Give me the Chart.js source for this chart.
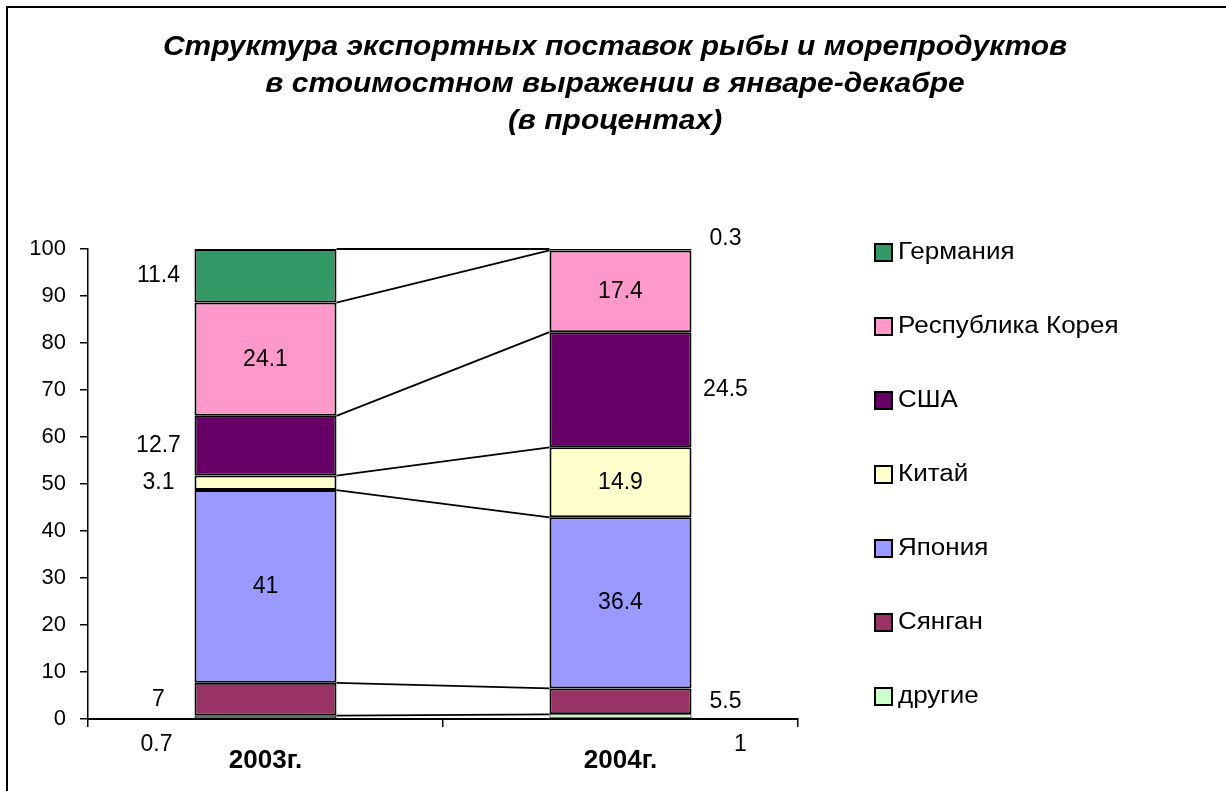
<!DOCTYPE html>
<html lang="ru">
<head>
    <meta charset="UTF-8">
    <title>Структура экспортных поставок рыбы и морепродуктов</title>
    <script src="https://cdn.jsdelivr.net/npm/chart.js"></script>
    <style>
        html, body { margin: 0; padding: 0; background: #fff; overflow: hidden; }
        .frame {
            position: absolute; left: 6px; top: 6px;
            width: 1400px; height: 1000px;
            border-left: 2px solid #000; border-top: 2px solid #000;
        }
        .wrap { position: absolute; left: 0; top: 0; width: 1226px; height: 791px; }
    </style>
</head>
<body>
    <div class="frame"></div>
    <div class="wrap"><canvas id="exportChart"></canvas></div>

    <script>
        // данные
        const categories = ['2003г.', '2004г.'];
        const seriesNames = ['другие', 'Сянган', 'Япония', 'Китай', 'США', 'Республика Корея', 'Германия'];
        const other   = [0.7, 1];
        const hongKong = [7, 5.5];
        const japan   = [41, 36.4];
        const china   = [3.1, 14.9];
        const usa     = [12.7, 24.5];
        const korea   = [24.1, 17.4];
        const germany = [11.4, 0.3];
        const yTicks = [0, 10, 20, 30, 40, 50, 60, 70, 80, 90, 100];
        const titleLines = [
            'Структура экспортных поставок рыбы и морепродуктов',
            'в стоимостном выражении в январе-декабре',
            '(в процентах)'
        ];

        const seriesValues = [other, hongKong, japan, china, usa, korea, germany];
        const colors = ['#CCFFCC', '#993366', '#9999FF', '#FFFFCC', '#660066', '#FF99CC', '#339966'];
        // где стоит подпись: in / side / below / above
        const labelModes = [
            ['below', 'below'],
            ['side', 'side'],
            ['in', 'in'],
            ['side', 'in'],
            ['side', 'side'],
            ['in', 'in'],
            ['side', 'above']
        ];

        const FONT = "'Liberation Sans', Arial, sans-serif";

        // текст, растянутый по горизонтали (шрифт оригинала шире)
        function wideText(ctx, text, x, y, sx) {
            ctx.save();
            ctx.translate(x, y);
            ctx.scale(sx, 1);
            ctx.fillText(text, 0, 0);
            ctx.restore();
        }

        const chartTitle = {
            id: 'chartTitle',
            afterDraw(chart) {
                const ctx = chart.ctx;
                ctx.save();
                ctx.font = 'italic bold 28px ' + FONT;
                ctx.fillStyle = '#000';
                ctx.textAlign = 'center';
                ctx.textBaseline = 'middle';
                titleLines.forEach((t, i) => wideText(ctx, t, 615, 47 + i * 37, 1.07));
                ctx.restore();
            }
        };

        // линии между столбцами
        const seriesLines = {
            id: 'seriesLines',
            afterDatasetsDraw(chart) {
                const ctx = chart.ctx;
                const y = chart.scales.y;
                const n = chart.data.datasets.length;
                ctx.save();
                ctx.strokeStyle = '#000';
                ctx.lineWidth = 1.8;
                let c0 = 0, c1 = 0;
                for (let i = 0; i < n; i++) {
                    const d = chart.data.datasets[i].data;
                    c0 += d[0]; c1 += d[1];
                    const b0 = chart.getDatasetMeta(i).data[0];
                    const b1 = chart.getDatasetMeta(i).data[1];
                    ctx.beginPath();
                    ctx.moveTo(b0.x + b0.width / 2, y.getPixelForValue(c0));
                    ctx.lineTo(b1.x - b1.width / 2, y.getPixelForValue(c1));
                    ctx.stroke();
                }
                ctx.restore();
            }
        };

        // подписи значений
        const valueLabels = {
            id: 'valueLabels',
            afterDatasetsDraw(chart) {
                const ctx = chart.ctx;
                const area = chart.chartArea;
                ctx.save();
                ctx.font = '23px ' + FONT;
                ctx.fillStyle = '#000';
                ctx.textAlign = 'center';
                ctx.textBaseline = 'middle';
                chart.data.datasets.forEach((ds, i) => {
                    chart.getDatasetMeta(i).data.forEach((bar, j) => {
                        const mode = labelModes[i][j];
                        const half = bar.width / 2;
                        const sideX = j === 0 ? bar.x - half - 36 : bar.x + half + 34;
                        const midY = (bar.y + bar.base) / 2;
                        let x = bar.x, y = midY;
                        if (mode === 'side') { x = sideX; }
                        else if (mode === 'below') { x = j === 0 ? sideX - 2 : sideX + 15; y = area.bottom + 26; }
                        else if (mode === 'above') { x = sideX; y = bar.y - 10; }
                        ctx.fillText(String(ds.data[j]), x, y);
                    });
                });
                ctx.restore();
            }
        };

        // легенда справа
        const sideLegend = {
            id: 'sideLegend',
            afterDraw(chart) {
                const ctx = chart.ctx;
                const n = chart.data.datasets.length;
                ctx.save();
                ctx.font = '23px ' + FONT;
                ctx.textBaseline = 'middle';
                ctx.textAlign = 'left';
                for (let k = 0; k < n; k++) {
                    const ds = chart.data.datasets[n - 1 - k];
                    const cy = 252 + k * 74;
                    ctx.fillStyle = ds.backgroundColor;
                    ctx.fillRect(875, cy - 8, 17, 17);
                    ctx.strokeStyle = '#000';
                    ctx.lineWidth = 2;
                    ctx.strokeRect(875, cy - 8, 17, 17);
                    ctx.fillStyle = '#000';
                    wideText(ctx, ds.label, 898, cy + 1, 1.13);
                }
                ctx.restore();
            }
        };

        const ctx = document.getElementById('exportChart').getContext('2d');
        new Chart(ctx, {
            type: 'bar',
            data: {
                labels: categories,
                datasets: seriesNames.map((name, i) => ({
                    label: name,
                    data: seriesValues[i],
                    backgroundColor: colors[i],
                    borderColor: '#000',
                    borderWidth: i === 0 ? 1 : 2,
                    borderSkipped: false,
                    barPercentage: 1,
                    categoryPercentage: 0.4
                }))
            },
            options: {
                responsive: true,
                maintainAspectRatio: false,
                animation: false,
                layout: { padding: { left: 0, right: 428, top: 249, bottom: 0 } },
                plugins: {
                    legend: { display: false },
                    tooltip: { enabled: false },
                    title: { display: false }
                },
                scales: {
                    x: {
                        stacked: true,
                        grid: { display: true, drawOnChartArea: false, color: '#000', tickLength: 8, lineWidth: 1.5 },
                        border: { color: '#000', width: 2 },
                        ticks: { color: '#000', padding: 18, font: { family: FONT, size: 26, weight: 'bold' } },
                        afterFit(axis) { axis.height = 72; }
                    },
                    y: {
                        stacked: true,
                        min: 0,
                        max: 100,
                        afterBuildTicks(axis) { axis.ticks = yTicks.map(v => ({ value: v })); },
                        grid: { display: true, drawOnChartArea: false, color: '#000', tickLength: 8, lineWidth: 1.5 },
                        border: { color: '#000', width: 1.5 },
                        ticks: { color: '#000', padding: 14, font: { family: FONT, size: 22 } },
                        afterFit(axis) { axis.width = 88; }
                    }
                }
            },
            plugins: [chartTitle, seriesLines, valueLabels, sideLegend]
        });
    </script>
</body>
</html>
